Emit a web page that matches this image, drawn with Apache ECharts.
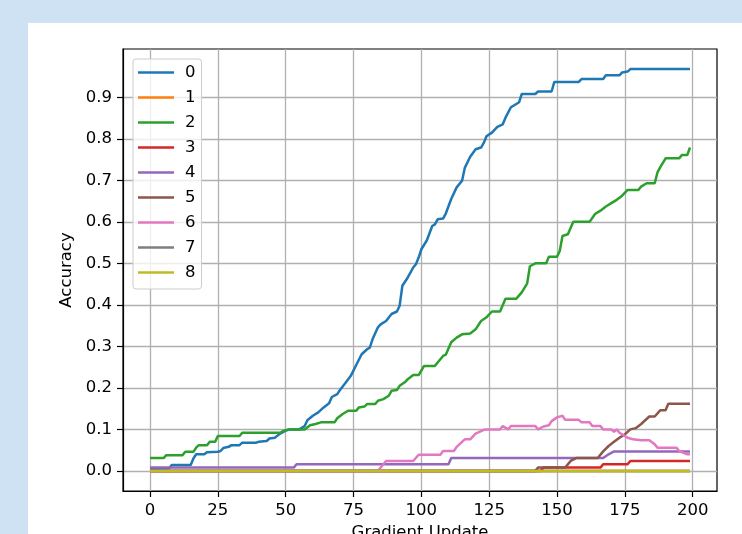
<!DOCTYPE html>
<html>
<head>
<meta charset="utf-8">
<script src="https://cdn.jsdelivr.net/npm/echarts@6/dist/echarts.min.js"></script>
<style>
  html, body { margin: 0; padding: 0; background: #cfe2f3; }
  #paper { position: absolute; left: 28px; top: 23px; width: 714px; height: 511px; background: #ffffff; }
  #chart { position: absolute; left: 0; top: 0; width: 742px; height: 534px; }
</style>
</head>
<body>
<div id="paper"></div>
<div id="chart"></div>
<script>
// ---- data ----
const seriesNames = ['0', '1', '2', '3', '4', '5', '6', '7', '8'];
const seriesColors = ['#1f77b4', '#ff7f0e', '#2ca02c', '#d62728', '#9467bd', '#8c564b', '#e377c2', '#7f7f7f', '#bcbd22'];
const xTicks = [0, 25, 50, 75, 100, 125, 150, 175, 200];
const yTicks = [0.0, 0.1, 0.2, 0.3, 0.4, 0.5, 0.6, 0.7, 0.8, 0.9];

const s0 = [[0,0.005],[3,0.005],[4,0.006],[7,0.006],[8,0.014],[15,0.014],[16,0.03],[17,0.04],[20,0.04],[21,0.045],[25,0.046],[26,0.048],[27,0.055],[29,0.058],[30,0.062],[33,0.062],[34,0.068],[39,0.068],[40,0.07],[43,0.072],[44,0.078],[46,0.08],[47,0.085],[48,0.09],[50,0.097],[51,0.1],[55,0.1],[57,0.108],[58,0.122],[60,0.133],[62,0.141],[64,0.153],[66,0.163],[67,0.178],[69,0.185],[70,0.195],[72,0.212],[74,0.229],[76,0.255],[78,0.281],[80,0.293],[81,0.297],[82,0.317],[84,0.346],[85,0.353],[87,0.361],[89,0.378],[91,0.384],[92,0.398],[93,0.446],[95,0.466],[97,0.49],[98,0.498],[99,0.514],[100,0.534],[102,0.555],[104,0.59],[105,0.594],[106,0.606],[108,0.608],[109,0.62],[111,0.655],[113,0.683],[115,0.699],[116,0.73],[118,0.757],[120,0.775],[122,0.779],[123,0.79],[124,0.806],[126,0.815],[128,0.829],[130,0.835],[131,0.851],[133,0.876],[135,0.884],[136,0.888],[137,0.908],[142,0.908],[143,0.914],[148,0.914],[149,0.937],[158,0.937],[159,0.944],[167,0.944],[168,0.953],[173,0.953],[174,0.96],[176,0.962],[177,0.968],[199,0.968]];
const s1 = [[0,0],[199,0]];
const s2 = [[0,0.031],[5,0.031],[6,0.038],[12,0.038],[13,0.046],[16,0.046],[17,0.056],[18,0.062],[21,0.062],[22,0.07],[24,0.07],[25,0.084],[33,0.084],[34,0.092],[48,0.092],[49,0.096],[52,0.1],[57,0.1],[59,0.11],[61,0.113],[63,0.117],[68,0.117],[69,0.127],[71,0.137],[73,0.145],[76,0.145],[77,0.153],[79,0.155],[80,0.161],[83,0.161],[84,0.169],[86,0.173],[88,0.181],[89,0.193],[91,0.195],[92,0.205],[94,0.214],[95,0.221],[97,0.231],[99,0.231],[101,0.253],[105,0.253],[106,0.261],[108,0.277],[109,0.28],[111,0.31],[113,0.321],[115,0.329],[118,0.331],[120,0.341],[122,0.361],[124,0.37],[126,0.384],[129,0.384],[131,0.415],[135,0.415],[137,0.43],[139,0.452],[140,0.493],[142,0.5],[146,0.5],[147,0.516],[150,0.516],[151,0.53],[152,0.566],[154,0.57],[156,0.6],[162,0.6],[164,0.619],[166,0.627],[168,0.637],[170,0.645],[172,0.653],[174,0.663],[176,0.677],[180,0.677],[181,0.685],[183,0.693],[186,0.693],[187,0.719],[188,0.731],[190,0.753],[195,0.753],[196,0.761],[198,0.761],[199,0.779]];
const s3 = [[0,0],[144,0],[145,0.008],[166,0.008],[167,0.016],[176,0.016],[177,0.024],[199,0.024]];
const s4 = [[0,0.008],[53,0.008],[54,0.016],[110,0.016],[111,0.031],[167,0.031],[169,0.04],[171,0.047],[199,0.047]];
const s5 = [[0,0],[142,0],[143,0.008],[153,0.008],[155,0.024],[157,0.031],[165,0.031],[167,0.047],[169,0.06],[171,0.07],[173,0.08],[175,0.088],[177,0.1],[179,0.103],[181,0.113],[183,0.125],[184,0.131],[186,0.131],[188,0.146],[190,0.146],[191,0.162],[199,0.162]];
const s6 = [[0,0],[84,0],[86,0.016],[87,0.024],[97,0.024],[99,0.039],[107,0.039],[108,0.048],[112,0.048],[113,0.058],[116,0.076],[118,0.076],[120,0.09],[123,0.099],[124,0.1],[129,0.1],[130,0.108],[132,0.1],[133,0.108],[142,0.108],[143,0.1],[145,0.107],[147,0.11],[148,0.12],[150,0.129],[152,0.133],[153,0.123],[158,0.123],[159,0.117],[162,0.117],[163,0.108],[166,0.108],[167,0.1],[170,0.1],[171,0.094],[172,0.1],[173,0.092],[176,0.08],[178,0.076],[181,0.074],[184,0.074],[186,0.064],[187,0.056],[194,0.056],[195,0.048],[198,0.04],[199,0.04]];
const s7 = [[0,0],[199,0]];
const s8 = [[0,0],[199,0]];
const allSeries = [s0, s1, s2, s3, s4, s5, s6, s7, s8];

// ---- chart ----
const FONT = 'DejaVu Sans';
const FS = 16.5;
const chart = echarts.init(document.getElementById('chart'), null, { renderer: 'canvas' });

const option = {
  animation: false,
  backgroundColor: 'transparent',
  textStyle: { fontFamily: FONT },
  grid: {
    left: 123, right: 25, top: 49, bottom: 43,
    containLabel: false, outerBoundsMode: 'none',
    show: true, borderColor: '#000', borderWidth: 1.2, backgroundColor: 'transparent'
  },
  legend: {
    orient: 'vertical', left: 133, top: 59,
    padding: [5, 6, 8, 5],
    itemGap: 8, itemWidth: 36, itemHeight: 2.5,
    icon: 'rect',
    backgroundColor: 'rgba(255,255,255,0.8)',
    borderColor: '#cccccc', borderWidth: 1, borderRadius: 3,
    textStyle: { fontFamily: FONT, fontSize: FS, color: '#000', lineHeight: 16, padding: [0, 0, 0, 6] },
    data: seriesNames
  },
  xAxis: {
    type: 'value', min: -9.95, max: 208.95,
    name: 'Gradient Update', nameLocation: 'middle', nameGap: 31,
    nameTextStyle: { fontFamily: FONT, fontSize: FS, color: '#000' },
    axisLine: { show: true, onZero: false, lineStyle: { color: '#000', width: 1.2 } },
    axisTick: { show: true, length: 6, customValues: xTicks, lineStyle: { color: '#000', width: 1.2 } },
    axisLabel: { customValues: xTicks, margin: 11, fontFamily: FONT, fontSize: FS, color: '#000',
                 formatter: v => String(Math.round(v)) },
    splitLine: { show: true, lineStyle: { color: '#b0b0b0', width: 1.3 } }
  },
  yAxis: {
    type: 'value', min: -0.0484, max: 1.0164,
    name: 'Accuracy', nameLocation: 'middle', nameGap: 45,
    nameTextStyle: { fontFamily: FONT, fontSize: FS, color: '#000' },
    axisLine: { show: true, onZero: false, lineStyle: { color: '#000', width: 1.2 } },
    axisTick: { show: true, length: 6, customValues: yTicks, lineStyle: { color: '#000', width: 1.2 } },
    axisLabel: { customValues: yTicks, margin: 11, fontFamily: FONT, fontSize: FS, color: '#000',
                 formatter: v => Number(v).toFixed(1) },
    splitLine: { show: true, lineStyle: { color: '#b0b0b0', width: 1.3 } }
  },
  series: allSeries.map((d, i) => ({
    name: seriesNames[i],
    type: 'line',
    data: d,
    showSymbol: false,
    symbol: 'none',
    color: seriesColors[i],
    itemStyle: { color: seriesColors[i] },
    lineStyle: { color: seriesColors[i], width: 2.5 },
    emphasis: { disabled: true }
  }))
};
chart.setOption(option);
</script>
</body>
</html>
